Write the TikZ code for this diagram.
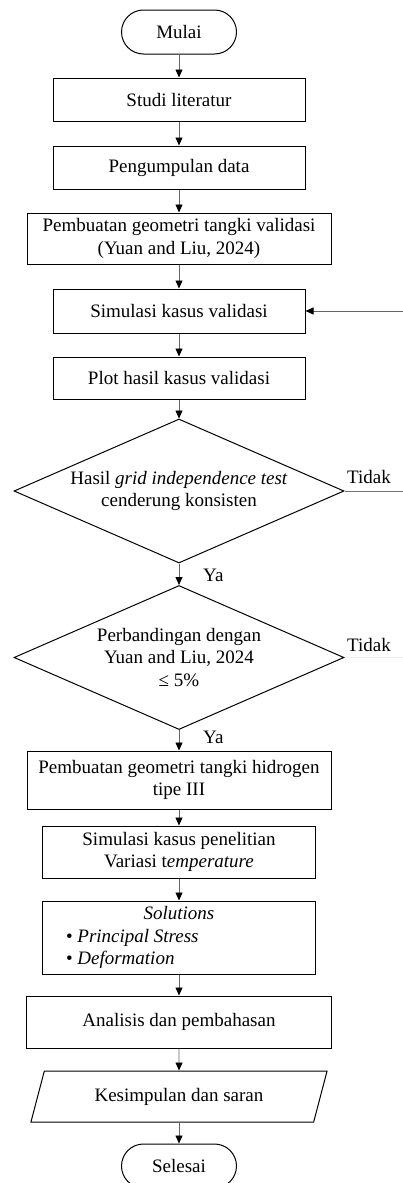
\documentclass[tikz,border=0pt]{standalone}
\usepackage{fontspec}
\setmainfont{Liberation Serif}
\usetikzlibrary{shapes.geometric, arrows.meta}

\begin{document}
\begin{tikzpicture}[x=1pt, y=-1pt,
    every node/.style={font=\fontsize{19}{22.5}\selectfont},
    box/.style={draw, line width=1pt, align=center, inner sep=0pt},
    ends/.style={box, rounded corners=22pt, minimum width=115pt, minimum height=44pt},
    proc/.style 2 args={box, minimum width=#1, minimum height=#2},
    dec/.style={box, diamond, aspect=2.3, minimum width=330pt, minimum height=144pt},
    io/.style={box, trapezium, trapezium left angle=64, trapezium right angle=116,
               trapezium stretches=true, minimum width=297pt, minimum height=51pt},
    lbl/.style={inner sep=0pt},
    flow/.style={draw=black!60, line width=0.8pt, -{Triangle[length=8pt, width=7pt, color=black]}},
    back/.style={draw=black!55, line width=0.8pt},
    faint/.style={draw=black!8, line width=0.8pt}]
              \useasboundingbox (0,0) rectangle (403,1183);
              % Steps
              \node[ends] (mulai) at (179,32) {Mulai};
              \node[proc={252pt}{43pt}] (studi) at (179,99.5) {Studi literatur};
              \node[proc={252pt}{43pt}] (data) at (179,167.5) {Pengumpulan data};
              \node[proc={304pt}{51pt}] (geomval) at (179,238.5) {Pembuatan geometri tangki validasi\\(Yuan and Liu, 2024)};
              \node[proc={252pt}{44pt}] (simval) at (179,311) {Simulasi kasus validasi};
              \node[proc={252pt}{42pt}] (plot) at (179,378) {Plot hasil kasus validasi};
              % Decisions
              \node[dec] (grid) at (179,491) {Hasil \textit{grid independence test}\\cenderung konsisten};
              \node[dec] (banding) at (179,657.5) {Perbandingan dengan\\Yuan and Liu, 2024\\≤ 5\%};
              % Steps after validation
              \node[proc={304pt}{58pt}] (geomh) at (179,780) {Pembuatan geometri tangki hidrogen\\tipe III};
              \node[proc={273pt}{52pt}] (simpen) at (179,852) {Simulasi kasus penelitian\\Variasi t\textit{emperature}};
              \node[proc={273pt}{73pt}] (solusi) at (179,937.5) {\textit{Solutions}\\
                  \makebox[226pt][l]{• \textit{Principal Stress}}\\
                  \makebox[226pt][l]{• \textit{Deformation}}};
              \node[proc={305pt}{52pt}] (analisis) at (179,1022) {Analisis dan pembahasan};
              \node[io] (simpul) at (179,1096.5) {Kesimpulan dan saran};
              \node[ends] (selesai) at (179,1166) {Selesai};
              % Arrows
              \draw[flow] (mulai) -- (studi);
              \draw[flow] (studi) -- (data);
              \draw[flow] (data) -- (geomval);
              \draw[flow] (geomval) -- (simval);
              \draw[flow] (simval) -- (plot);
              \draw[flow] (plot) -- (grid);
              \draw[flow] (grid) -- (banding);
              \draw[flow] (banding) -- (geomh);
              \draw[flow] (geomh) -- (simpen);
              \draw[flow] (simpen) -- (solusi);
              \draw[flow] (solusi) -- (analisis);
              \draw[flow] (analisis) -- (simpul);
              \draw[flow] (simpul) -- (selesai);
              % Loop back
              \coordinate (kembali) at (403,311);
              \coordinate (tidaka) at (403,491);
              \coordinate (tidakb) at (403,657.5);
              \draw[flow] (kembali) -- (simval);
              \draw[back] (grid.east) -- (tidaka);
              \draw[faint] (banding.east) -- (tidakb);
              % Labels
              \node[lbl, anchor=west] (ya1) at (203,575) {Ya};
              \node[lbl, anchor=west] (ya2) at (203,737) {Ya};
              \node[lbl, anchor=west] (tidak1) at (347,477) {Tidak};
              \node[lbl, anchor=west] (tidak2) at (347,645) {Tidak};
\end{tikzpicture}
\end{document}
